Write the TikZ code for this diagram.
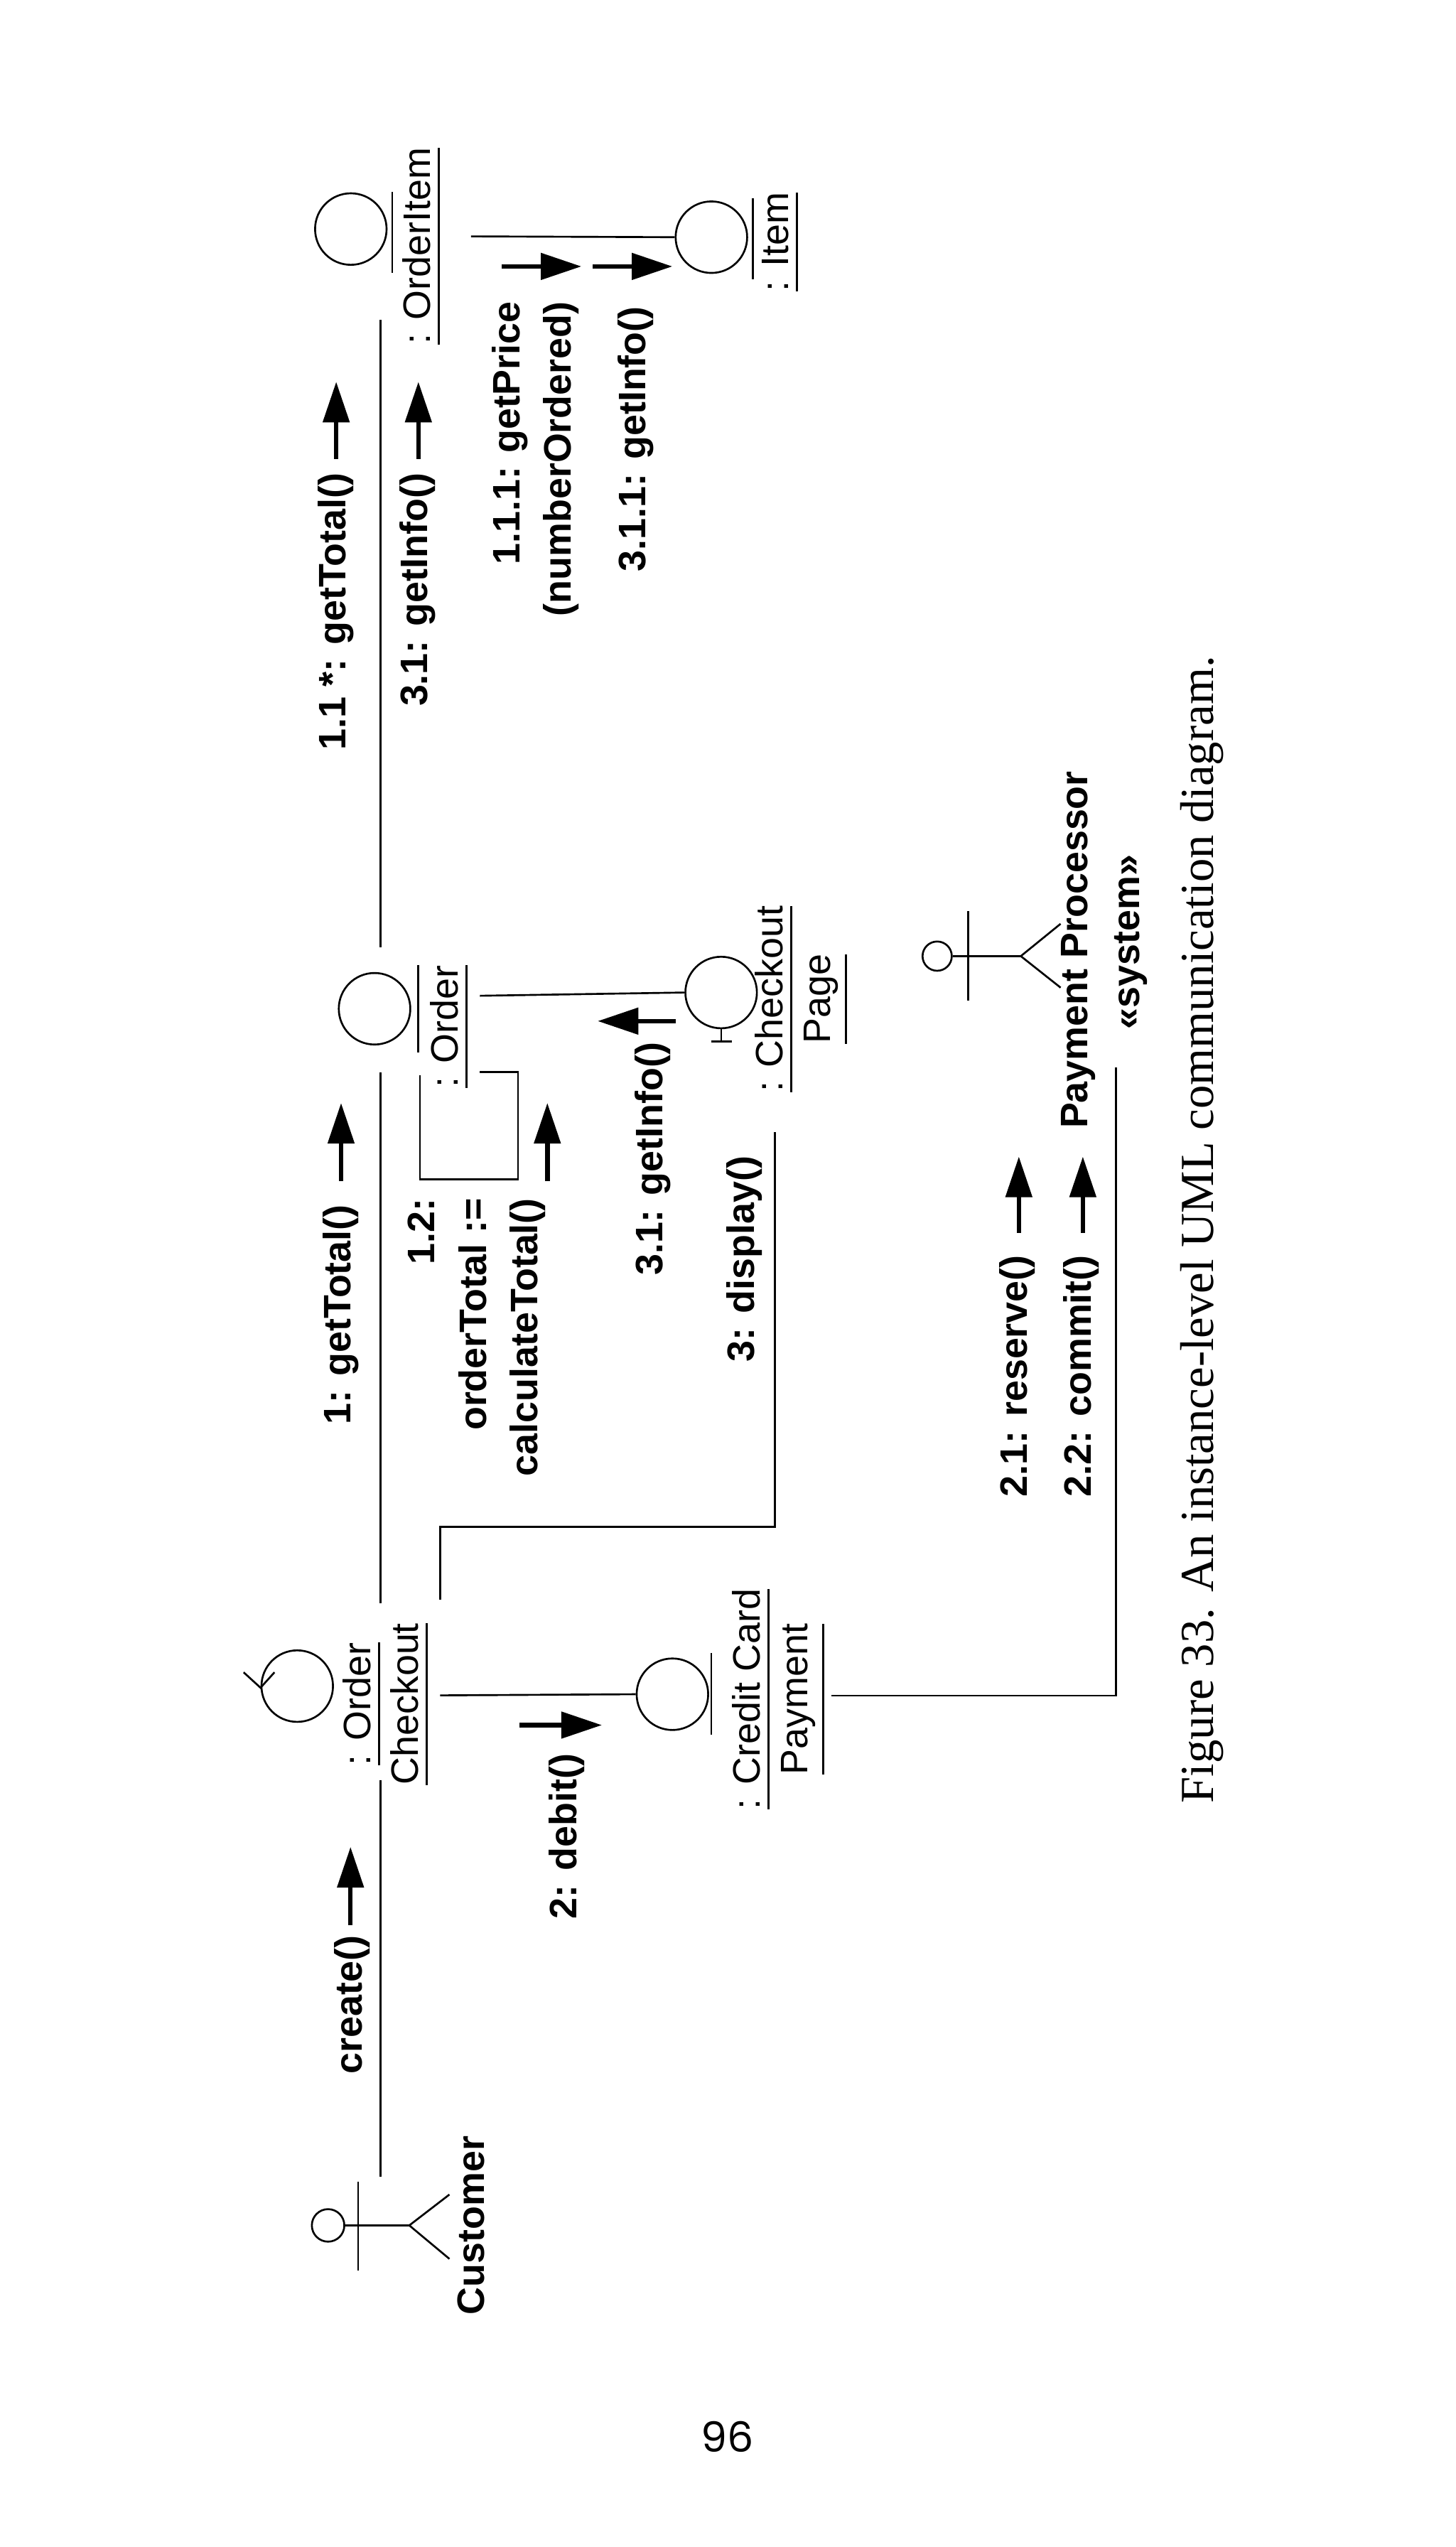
\documentclass[tikz,border=0pt]{standalone}
\usepackage{fontspec}
\setmainfont{Liberation Sans}
\newfontfamily\capfont{Liberation Serif}
\newfontfamily\numfont{Poppins}
\usetikzlibrary{arrows.meta}
\begin{document}
\begin{tikzpicture}[x=0.01cm,y=-0.01cm,
  ln/.style={line width=0.33pt},
  msg/.style={line width=0.8pt,-{Triangle[length=0.25cm,width=0.16cm]}},
  lab/.style={rotate=90,inner sep=0pt,font=\fontsize{6.7}{9}\selectfont\bfseries},
  obj/.style={rotate=90,inner sep=0pt,align=center,font=\fontsize{6.7}{8.3}\selectfont},
  circ/.style={circle,draw,line width=0.33pt,minimum size=0.44cm,inner sep=0pt}]
\useasboundingbox (0,0) rectangle (896,1568);
% Customer actor
\node[circle,draw,ln,minimum size=0.2cm,inner sep=0pt] (custhead) at (202,1370) {};
\coordinate (custhip) at (252,1370);
\draw[ln] (custhead.east) -- (custhip);
\draw[ln] (220.5,1343) -- (220.5,1398);
\draw[ln] (276.7,1351) -- (custhip) -- (276.7,1390.6);
\node[lab] (custlab) at (290,1370) {Customer};
% Order Checkout (control)
\node[circ] (oc) at (183,1038) {};
\draw[ln] (150,1029.5) -- (160.4,1039) -- (169,1029.5);
\node[obj] (oclab) at (238,1049) {\underline{: Order}\\\underline{Checkout}};
% Order (entity)
\node[circ] (ord) at (230.6,621) {};
\draw[ln] (257.6,594) -- (257.6,648);
\node[obj] (ordlab) at (277,632) {\underline{: Order}};
% OrderItem
\node[circ] (oi) at (216,141) {};
\draw[ln] (241.5,118) -- (241.5,168);
\node[obj] (oilab) at (260,151.5) {\underline{: OrderItem}};
% Item
\node[circ] (it) at (438,146) {};
\draw[ln] (463.6,122) -- (463.6,172);
\node[obj] (itlab) at (481,149) {\underline{: Item}};
% Checkout Page (boundary)
\node[circ] (cp) at (444,611) {};
\draw[ln] (cp.south) ++(0,0) -- (444,641);
\draw[ln] (438,641) -- (450.6,641);
\node[obj] (cplab) at (494,615) {\underline{: Checkout}\\\underline{Page}};
% Credit Card Payment
\node[circ] (cc) at (414,1043) {};
\draw[ln] (438,1017.5) -- (438,1068);
\node[obj] (cclab) at (480,1046) {\underline{: Credit Card}\\\underline{Payment}};
% Payment Processor actor
\node[circle,draw,ln,minimum size=0.18cm,inner sep=0pt] (pphead) at (577,588.6) {};
\coordinate (pphip) at (628.5,588.6);
\draw[ln] (pphead.east) -- (pphip);
\draw[ln] (596,561) -- (596,616);
\draw[ln] (653,568.7) -- (pphip) -- (653,608);
\node[lab,anchor=east] (pplab) at (664,474) {Payment Processor};
\node[lab] (ppsys) at (696.5,580) {<<system>>};
% connectors
\coordinate (a1) at (234.3,1340); \coordinate (a2) at (234.3,1096);
\draw[ln] (a1) -- (a2);
\coordinate (b1) at (234.3,987); \coordinate (b2) at (234.3,660);
\draw[ln] (b1) -- (b2);
\coordinate (c1) at (234.3,583); \coordinate (c2) at (234.3,197);
\draw[ln] (c1) -- (c2);
\coordinate (d1) at (271,985); \coordinate (d2) at (477,697);
\draw[ln] (d1) -- (271,940) -- (477,940) -- (d2);
\coordinate (e1) at (271,1043.7);
\draw[ln] (e1) -- (cc.west);
\coordinate (f1) at (290,145.5);
\draw[ln] (f1) -- (it.west);
\coordinate (g1) at (295.5,613);
\draw[ln] (g1) -- (cp.west);
\coordinate (h1) at (512,1043.8); \coordinate (h2) at (687,657);
\draw[ln] (h1) -- (687,1043.8) -- (h2);
\coordinate (s1) at (258.5,662); \coordinate (s2) at (295.5,660);
\draw[ln] (s1) -- (258.5,726) -- (319,726) -- (319,660) -- (s2);
% messages
\draw[msg] (215.8,1185) -- (215.8,1137);
\node[lab,anchor=east] at (217,1191) {create()};
\draw[msg] (210,727) -- (210,679);
\node[lab,anchor=east] at (210,741) {1: getTotal()};
\draw[msg] (207,282.6) -- (207,235);
\node[lab,anchor=east] at (207,290.6) {1.1 *: getTotal()};
\draw[msg] (257.6,282.6) -- (257.6,235);
\node[lab,anchor=east] at (257,290.6) {3.1: getInfo()};
\draw[msg] (337,727) -- (337,679);
\node[lab,anchor=east,align=right] at (293.5,737) {1.2:\\orderTotal :=\\calculateTotal()};
\draw[msg] (416,628.6) -- (368,628.6);
\node[lab,anchor=east] at (402,641) {3.1: getInfo()};
\node[lab,anchor=east] at (458.5,711) {3: display()};
\draw[msg] (320,1062) -- (370.6,1062);
\node[lab,anchor=east] at (349,1079) {2: debit()};
\draw[msg] (309,164) -- (358,164);
\draw[msg] (365,164) -- (414,164);
\node[lab,anchor=east,align=right] at (329.7,185) {1.1.1: getPrice\\(numberOrdered)};
\node[lab,anchor=east] at (391.5,188) {3.1.1: getInfo()};
\draw[msg] (627.3,759) -- (627.3,712);
\node[lab,anchor=east] at (626.5,772) {2.1: reserve()};
\draw[msg] (666.7,759) -- (666.7,712);
\node[lab,anchor=east] at (665.6,772) {2.2: commit()};
% caption and page number
\node[rotate=90,inner sep=0pt,font=\capfont\fontsize{8.3}{10}\selectfont] (cap) at (740,757) {Figure 33. An instance-level UML communication diagram.};
\node[inner sep=0pt,font=\numfont\fontsize{7.3}{9}\selectfont] (pg) at (448,1500) {96};
\end{tikzpicture}
\end{document}
